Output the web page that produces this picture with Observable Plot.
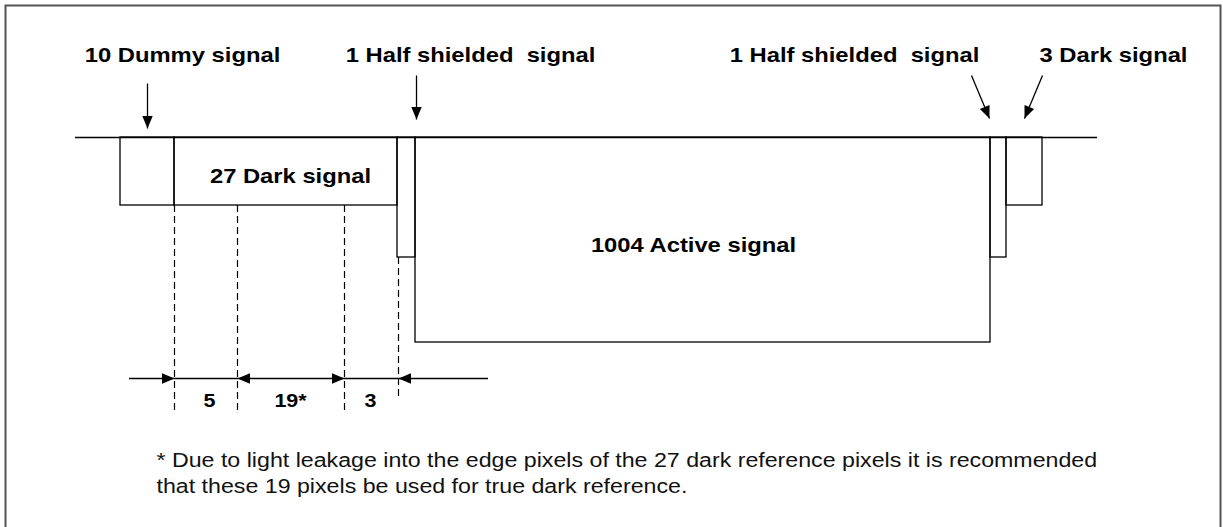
<!DOCTYPE html>
<html>
<head>
<meta charset="utf-8">
<script src="https://cdn.jsdelivr.net/npm/d3@7"></script>
<script src="https://cdn.jsdelivr.net/npm/@observablehq/plot@0.6"></script>
<style>
  html, body { margin: 0; padding: 0; background: #fff; }
  svg text { white-space: pre; }
</style>
</head>
<body>
<div id="chart"></div>
<script>
// ---- Diagram data (schematic units, 1 unit = 1 px of the drawing) ----
const baselineLevel = 137;
const baselineSpan = [75, 1097];

// signal blocks: name, start, end, depth (bottom)
const blockNames  = ["Dummy", "Dark27", "HalfLeft", "Active", "HalfRight", "Dark3"];
const blockStarts = [120, 174, 397, 415, 990, 1006];
const blockEnds   = [174, 397, 415, 990, 1006, 1042];
const blockDepths = [205, 205, 257, 342, 257, 205];

// top callout labels
const topLabels   = ["10 Dummy signal", "1 Half shielded  signal", "1 Half shielded  signal", "3 Dark signal"];
const topLabelX   = [182, 470, 854, 1113];
const topLabelY   = 61;

// callout arrows: start point -> tip
const calloutFromX = [147, 416, 971, 1042];
const calloutFromY = [83, 75, 75, 75];
const calloutToX   = [147, 416, 989, 1024];
const calloutToY   = [128, 119, 118, 118];

// inner labels
const innerLabels = ["27 Dark signal", "1004 Active signal"];
const innerLabelX = [290, 693];
const innerLabelY = [182, 251];

// dashed guides
const guideX    = [174, 237, 344, 398];
const guideTop  = [205, 205, 205, 257];
const guideBot  = [410, 410, 410, 400];

// dimension line
const dimLevel = 378;
const dimSpan = [129, 488];
const dimTipX = [174, 237, 344, 398];
const dimTipDir = [1, -1, 1, -1]; // +1 points right, -1 points left
const dimLabels = ["5", "19*", "3"];
const dimLabelX = [209, 290, 370];
const dimLabelY = 406;

// footnote
const footnoteLines = [
  "* Due to light leakage into the edge pixels of the 27 dark reference pixels it is recommended",
  "that these 19 pixels be used for true dark reference."
];
const footnoteX = 156;
const footnoteY = [466, 492];

// ---- build tables ----
const blocks = blockNames.map((n, i) => ({n, x1: blockStarts[i], x2: blockEnds[i], y1: baselineLevel, y2: blockDepths[i]}));
const callouts = calloutFromX.map((x, i) => ({x1: x, y1: calloutFromY[i], x2: calloutToX[i], y2: calloutToY[i]}));
const guides = guideX.map((x, i) => ({x, y1: guideTop[i], y2: guideBot[i]}));

// arrowheads (filled): tip + rotation
const heads = [
  ...callouts.map(c => ({x: c.x2, y: c.y2, r: Math.atan2(c.y2 - c.y1, c.x2 - c.x1) * 180 / Math.PI - 90})),
  ...dimTipX.map((x, i) => ({x, y: dimLevel, r: dimTipDir[i] > 0 ? -90 : 90}))
];

// custom arrowhead symbol: tip at origin, pointing toward +y
const arrowHead = {
  draw(ctx, size) {
    const L = 12.5, W = 5.2;
    ctx.moveTo(0, 0);
    ctx.lineTo(-W, -L);
    ctx.lineTo(W, -L);
    ctx.closePath();
  }
};

const FONT = "'Liberation Sans', Arial, Helvetica, sans-serif";

const svg = Plot.plot({
  width: 1223,
  height: 527,
  margin: 0,
  x: {domain: [0, 1223], range: [0, 1223], axis: null},
  y: {domain: [0, 527], range: [0, 527], axis: null},
  style: {background: "#fff", fontFamily: FONT},
  marks: [
    Plot.frame({stroke: "#555", strokeWidth: 2, insetLeft: 5, insetTop: 5, insetRight: 3, insetBottom: -10}),
    // baseline
    Plot.ruleY([baselineLevel], {x1: baselineSpan[0], x2: baselineSpan[1], stroke: "#000", strokeWidth: 1.3}),
    // blocks
    Plot.rect(blocks, {x1: "x1", x2: "x2", y1: "y1", y2: "y2", fill: "none", stroke: "#000", strokeWidth: 1.3}),
    // dashed guides
    Plot.ruleX(guides, {x: "x", y1: "y1", y2: "y2", stroke: "#000", strokeWidth: 1.2, strokeDasharray: "7,4"}),
    // dimension line
    Plot.ruleY([dimLevel], {x1: dimSpan[0], x2: dimSpan[1], stroke: "#000", strokeWidth: 1.3}),
    // callout shafts
    Plot.link(callouts, {x1: "x1", y1: "y1", x2: "x2", y2: "y2", stroke: "#000", strokeWidth: 1.3}),
    // arrowheads
    Plot.dot(heads, {x: "x", y: "y", rotate: "r", symbol: arrowHead, r: 5, fill: "#000", stroke: "none"}),
    // top labels
    Plot.text(topLabels.map((t, i) => ({t, x: topLabelX[i]})), {
      x: "x", y: () => topLabelY, text: "t", fontSize: 20.5, fontWeight: "bold",
      lineAnchor: "bottom", fill: "#000"
    }),
    // inner labels
    Plot.text(innerLabels.map((t, i) => ({t, x: innerLabelX[i], y: innerLabelY[i]})), {
      x: "x", y: "y", text: "t", fontSize: 20.5, fontWeight: "bold",
      lineAnchor: "bottom", fill: "#000"
    }),
    // dimension labels
    Plot.text(dimLabels.map((t, i) => ({t, x: dimLabelX[i]})), {
      x: "x", y: () => dimLabelY, text: "t", fontSize: 18.5, fontWeight: "bold",
      lineAnchor: "bottom", fill: "#000"
    }),
    // footnote
    Plot.text(footnoteLines.map((t, i) => ({t, y: footnoteY[i]})), {
      x: () => footnoteX, y: "y", text: "t", fontSize: 20, textAnchor: "start",
      lineAnchor: "bottom", fill: "#111"
    })
  ]
});

// the reference drawing is stretched horizontally (~1.16x): stretch every text about its anchor
d3.select(svg).selectAll("text").each(function() {
  const t = this.getAttribute("transform");
  if (t) {
    this.setAttribute("transform", t + " scale(1.16,1)");
  } else {
    const x = +this.getAttribute("x") || 0, y = +this.getAttribute("y") || 0;
    this.removeAttribute("x"); this.removeAttribute("y");
    this.setAttribute("transform", `translate(${x},${y}) scale(1.16,1)`);
  }
});

document.getElementById("chart").appendChild(svg);
</script>
</body>
</html>
